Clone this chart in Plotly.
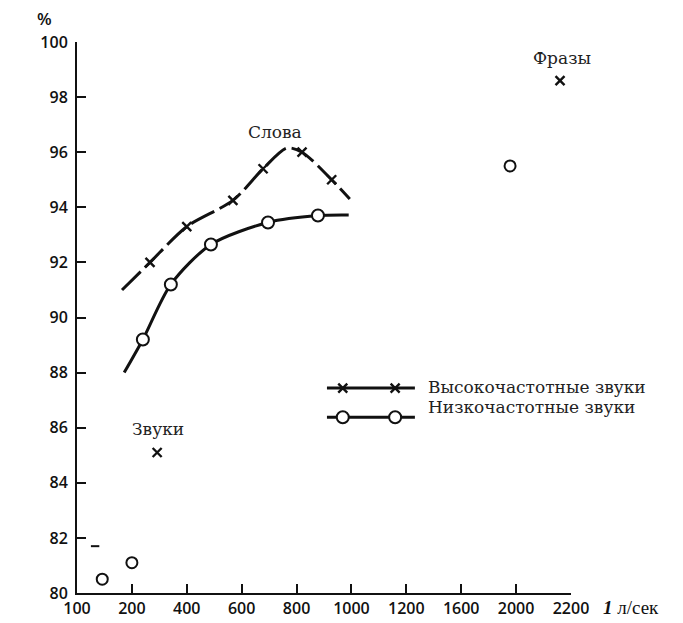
import numpy as np
import plotly.graph_objects as go

# ---- data ----
tick_values = [100, 200, 400, 600, 800, 1000, 1200, 1600, 2000, 2200]
tick_labels = ["100", "200", "400", "600", "800", "1000", "1200", "1600", "2000", "2200"]
y_ticks = [80, 82, 84, 86, 88, 90, 92, 94, 96, 98, 100]

# Высокочастотные звуки (words)
hf_x = [266, 400, 568, 678, 820, 928]
hf_y = [92.0, 93.3, 94.25, 95.4, 96.0, 95.0]
hf_curve_x = [182, 266, 400, 568, 678, 765, 820, 928, 994]
hf_curve_y = [91.0, 92.0, 93.3, 94.25, 95.4, 96.15, 96.0, 95.0, 94.3]

# Низкочастотные звуки (words)
lf_x = [240, 342, 488, 696, 878]
lf_y = [89.2, 91.2, 92.65, 93.45, 93.7]
lf_curve_x = [186, 240, 342, 488, 696, 878, 990]
lf_curve_y = [88.0, 89.2, 91.2, 92.65, 93.45, 93.7, 93.72]

# Звуки / Фразы (isolated points)
hf_sounds_x = [292]
hf_sounds_y = [85.1]
lf_sounds_x = [146, 200]
lf_sounds_y = [80.5, 81.1]
dash_mark_x = [133]
dash_mark_y = [81.7]
hf_phrases_x = [2160]
hf_phrases_y = [98.6]
lf_phrases_x = [1956]
lf_phrases_y = [95.5]

labels = [("Слова", 720, 96.73), ("Звуки", 295, 85.95), ("Фразы", 2166, 99.42)]


def pos(v):
    """map values onto the chart's uneven (evenly spaced tick) scale"""
    return np.interp(v, tick_values, np.arange(len(tick_values)))


INK = "#111111"
SERIF = "DejaVu Serif"
SANS = "Open Sans"

fig = go.Figure()

# curves
fig.add_trace(go.Scatter(x=pos(hf_curve_x), y=hf_curve_y, mode="lines",
                         line=dict(color=INK, width=3, shape="spline", smoothing=0.8,
                                   dash="26px,6px"),
                         hoverinfo="skip", showlegend=False))
fig.add_trace(go.Scatter(x=pos(lf_curve_x), y=lf_curve_y, mode="lines",
                         line=dict(color=INK, width=3, shape="spline", smoothing=0.8),
                         hoverinfo="skip", showlegend=False))

xmark = dict(symbol="x-thin", size=9, color=INK, line=dict(width=2.4, color=INK))
omark = dict(symbol="circle", size=12, color="white", line=dict(width=2, color=INK))
omark_s = dict(symbol="circle", size=11, color="white", line=dict(width=2, color=INK))

fig.add_trace(go.Scatter(x=pos(hf_x), y=hf_y, mode="markers", marker=xmark, showlegend=False))
fig.add_trace(go.Scatter(x=pos(lf_x), y=lf_y, mode="markers", marker=omark, showlegend=False))
fig.add_trace(go.Scatter(x=pos(hf_sounds_x + hf_phrases_x), y=hf_sounds_y + hf_phrases_y,
                         mode="markers", marker=xmark, showlegend=False))
fig.add_trace(go.Scatter(x=pos(lf_sounds_x + lf_phrases_x), y=lf_sounds_y + lf_phrases_y,
                         mode="markers", marker=omark_s, showlegend=False))
fig.add_trace(go.Scatter(x=pos(dash_mark_x), y=dash_mark_y, mode="markers",
                         marker=dict(symbol="line-ew", size=6, line=dict(width=2, color=INK)),
                         showlegend=False))

# custom legend drawn on an overlay axis (0..1 over the plot area)
fig.add_trace(go.Scatter(x=[0.506, 0.538, 0.644, 0.684], y=[0.372] * 4, mode="lines",
                         line=dict(color=INK, width=3), xaxis="x2", yaxis="y2",
                         hoverinfo="skip", showlegend=False))
fig.add_trace(go.Scatter(x=[0.538, 0.644], y=[0.372] * 2, mode="markers", marker=xmark,
                         xaxis="x2", yaxis="y2", hoverinfo="skip", showlegend=False))
fig.add_trace(go.Scatter(x=[0.506, 0.684], y=[0.319] * 2, mode="lines",
                         line=dict(color=INK, width=3), xaxis="x2", yaxis="y2",
                         hoverinfo="skip", showlegend=False))
fig.add_trace(go.Scatter(x=[0.538, 0.644], y=[0.319] * 2, mode="markers", marker=omark,
                         xaxis="x2", yaxis="y2", hoverinfo="skip", showlegend=False))

annotations = []
for txt, xv, yv in labels:
    annotations.append(dict(text=txt, x=float(pos(xv)), y=yv, xref="x", yref="y",
                            showarrow=False, font=dict(family=SERIF, size=17, color="#222")))
annotations += [
    dict(text="Высокочастотные звуки", x=0.709, y=0.374, xref="paper", yref="paper",
         xanchor="left", showarrow=False, borderpad=0,
         font=dict(family=SERIF, size=17, color="#222")),
    dict(text="Низкочастотные звуки", x=0.709, y=0.317, xref="paper", yref="paper",
         xanchor="left", showarrow=False, borderpad=0,
         font=dict(family=SERIF, size=17, color="#222")),
    dict(text="%", x=-0.065, y=1.0, xref="paper", yref="paper", yanchor="bottom",
         xanchor="center", yshift=11, showarrow=False, borderpad=0,
         font=dict(family=SANS, size=17, color=INK, weight=600)),
    dict(text="<i><b>1</b></i> л/сек", x=1.06, y=0, xref="paper", yref="paper",
         xanchor="left", yanchor="top", yshift=-2, showarrow=False,
         font=dict(family="Liberation Serif", size=19, color=INK)),
]

# page body adds an 8px margin, so the figure is 8px smaller and margins shifted by 8px
fig.update_layout(
    width=675, height=615,
    margin=dict(l=69, r=112, t=34, b=30, autoexpand=False),
    paper_bgcolor="white", plot_bgcolor="white",
    showlegend=False,
    annotations=annotations,
    xaxis=dict(range=[0, 9], tickvals=list(range(len(tick_values))), ticktext=tick_labels,
               showgrid=False, zeroline=False, showline=True, linecolor=INK, linewidth=2,
               ticks="inside", ticklen=9, tickwidth=2, tickcolor=INK, automargin=False,
               tickfont=dict(family=SANS, size=16, color=INK, weight=600)),
    yaxis=dict(range=[80, 100], tickvals=y_ticks, showgrid=False, zeroline=False,
               showline=True, linecolor=INK, linewidth=2, automargin=False,
               ticks="inside", ticklen=9, tickwidth=2, tickcolor=INK,
               ticklabelstandoff=4,
               tickfont=dict(family=SANS, size=16, color=INK, weight=600)),
    xaxis2=dict(range=[0, 1], overlaying="x", visible=False),
    yaxis2=dict(range=[0, 1], overlaying="y", visible=False),
)

fig.write_html("out.html")
